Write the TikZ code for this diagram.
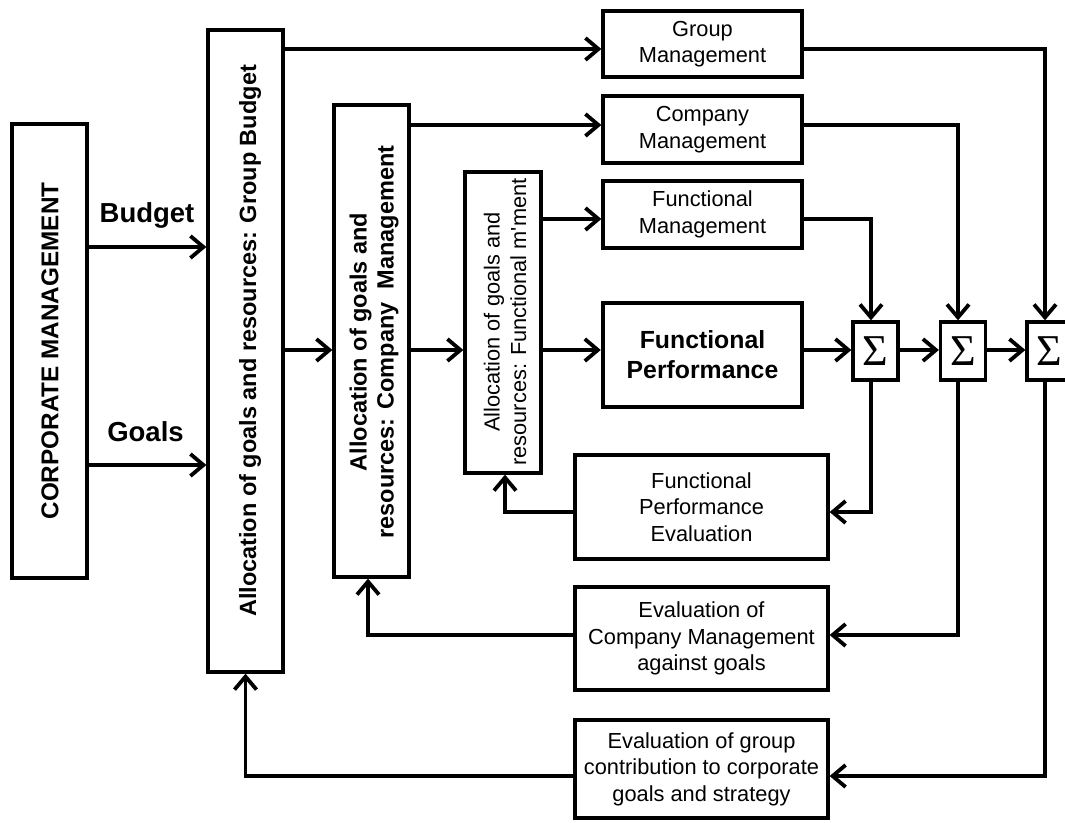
\documentclass[tikz,border=0pt]{standalone}
\usepackage{fontspec}
\setmainfont{Liberation Sans}
\newfontfamily\sigmafont{Liberation Serif}
\usetikzlibrary{arrows.meta}
\begin{document}
\begin{tikzpicture}[x=1pt,y=-1pt,
  box/.style={draw, line width=3.3pt, inner sep=0pt, align=center},
  reg/.style={font=\fontsize{21.8pt}{26.5pt}\selectfont, align=center, inner sep=0pt},
  bld/.style={font=\bfseries\fontsize{23.5pt}{27pt}\selectfont, align=center, inner sep=0pt},
  sig/.style={box, minimum width=45pt, minimum height=58pt, font=\sigmafont\fontsize{44pt}{44pt}\selectfont},
  arr/.style={line width=3.8pt, -{Straight Barb[length=13pt,width=22pt]}}]
\useasboundingbox (0,0) rectangle (1065,822);
\clip (0,0) rectangle (1065,822);
\fill[white] (0,0) rectangle (1065,822);

% left column boxes
\node[box, minimum width=75pt, minimum height=454pt] (corp) at (49.5,351) {};
\node[bld, rotate=90, font=\bfseries\fontsize{24.3pt}{28pt}\selectfont] (corpT) at (50,351) {CORPORATE MANAGEMENT};

\node[box, minimum width=75pt, minimum height=642pt] (gb) at (245.5,351) {};
\node[bld, rotate=90] (gbT) at (250,341) {Allocation of goals and resources: Group Budget};

\node[box, minimum width=75pt, minimum height=472pt] (ca) at (371.5,341) {};
\node[bld, rotate=90] (caT) at (374,342) {Allocation of goals and\\resources: Company~~Management};

\node[box, minimum width=76pt, minimum height=301pt] (fa) at (503,322.5) {};
\node[reg, rotate=90] (faT) at (505,322) {Allocation of goals and\\resources: Functional m\textquotesingle ment};

% right side boxes
\node[box, reg, minimum width=199pt, minimum height=66pt] (gm) at (702.5,44) {Group\\Management};
\node[box, reg, minimum width=199pt, minimum height=67pt] (cm) at (702.5,129.5) {Company\\Management};
\node[box, reg, minimum width=199pt, minimum height=67pt] (fm) at (702.5,214.5) {Functional\\Management};
\node[box, line width=4.5pt, minimum width=199pt, minimum height=104pt,
      font=\bfseries\fontsize{24.8pt}{30pt}\selectfont] (fp) at (702.5,355) {Functional\\Performance};

\node[sig] (s1) at (875.5,351) {Σ};
\node[sig] (s2) at (963,351) {Σ};
\node[sig, minimum width=52pt] (s3) at (1053,351) {\hspace*{-7pt}Σ};

\node[box, reg, minimum width=253pt, minimum height=104pt] (fpe) at (701.5,507) {Functional\\Performance\\Evaluation};
\node[box, reg, minimum width=253pt, minimum height=103pt] (ec) at (701.5,638.5) {Evaluation of\\Company Management\\against goals};
\node[box, reg, minimum width=253pt, minimum height=98pt] (eg) at (701.5,769) {Evaluation of group\\contribution to corporate\\goals and strategy};

% labels
\node[font=\bfseries\fontsize{27.5pt}{30pt}\selectfont, inner sep=0pt] (budgetL) at (147,215.5) {Budget};
\node[font=\bfseries\fontsize{27.5pt}{30pt}\selectfont, inner sep=0pt] (goalsL) at (145.5,432) {Goals};

% connectors
\draw[arr] (corp.east |- 0,247) -- (gb.west |- 0,247);
\draw[arr] (corp.east |- 0,465) -- (gb.west |- 0,465);
\draw[arr] (gb.east |- 0,49) -- (gm.west |- 0,49);
\draw[arr] (gb.east |- 0,350) -- (ca.west |- 0,350);
\draw[arr] (ca.east |- 0,125) -- (cm.west |- 0,125);
\draw[arr] (ca.east |- 0,350) -- (fa.west |- 0,350);
\draw[arr] (fa.east |- 0,219) -- (fm.west |- 0,219);
\draw[arr] (fa.east |- 0,350) -- (fp.west |- 0,350);
\draw[arr] (fp.east |- 0,350) -- (s1.west |- 0,350);
\draw[arr] (s1.east |- 0,350) -- (s2.west |- 0,350);
\draw[arr] (s2.east |- 0,350) -- (s3.west |- 0,350);

\draw[arr] (fm.east |- 0,219) -| ([xshift=-4.5pt]s1.north);
\draw[arr] (cm.east |- 0,125) -| ([xshift=-5pt]s2.north);
\draw[arr] (gm.east |- 0,49) -| ([xshift=-8pt]s3.north);

\draw[arr] ([xshift=-4.5pt]s1.south) |- (fpe.east |- 0,512);
\draw[arr] ([xshift=-5pt]s2.south) |- (ec.east |- 0,635);
\draw[arr] ([xshift=-8pt]s3.south) |- (eg.east |- 0,776);

\draw[arr] (fpe.west |- 0,512) -| ([xshift=2pt]fa.south);
\draw[arr] (ec.west |- 0,635) -| ([xshift=-3.5pt]ca.south);
\draw[arr] (eg.west |- 0,776) -| (gb.south);
\end{tikzpicture}
\end{document}
